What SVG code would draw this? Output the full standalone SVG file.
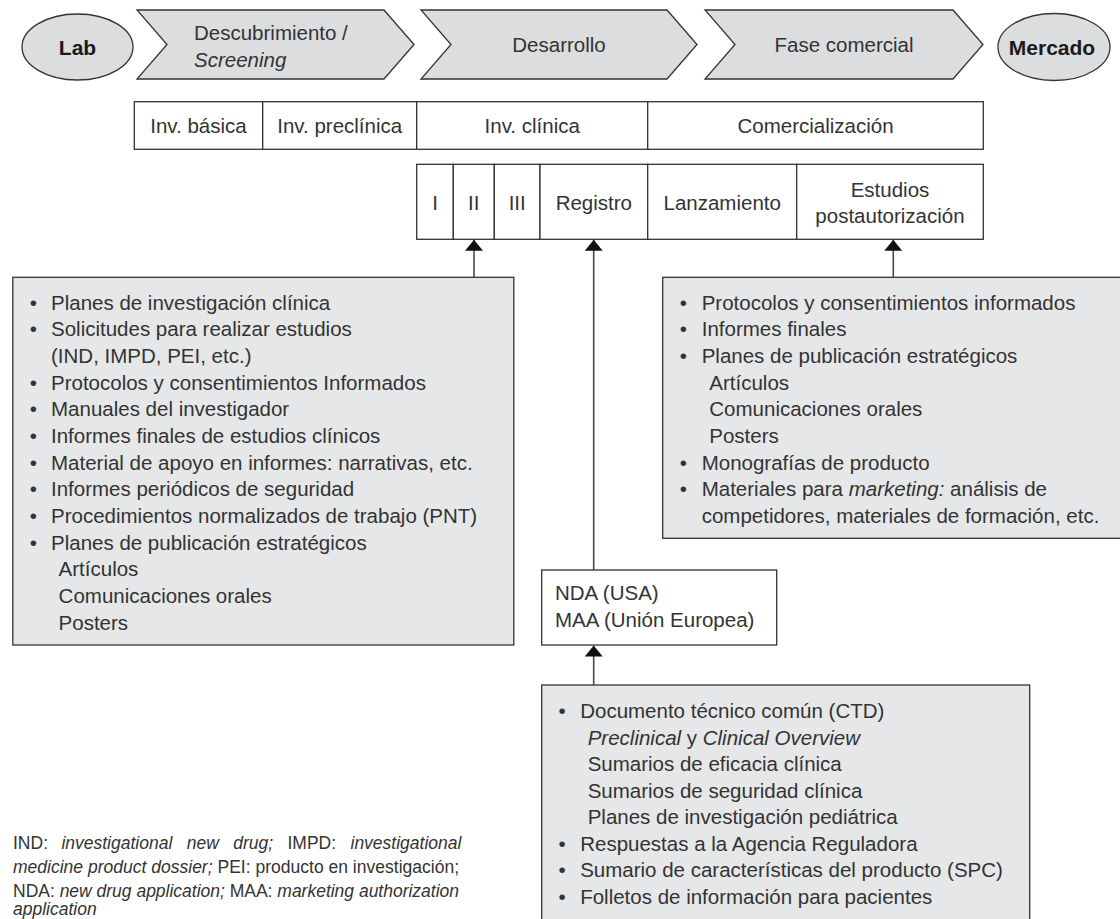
<svg xmlns="http://www.w3.org/2000/svg" width="1120" height="919" viewBox="0 0 1120 919">
<style>
text{font-family:"Liberation Sans",Arial,sans-serif;fill:#333;font-size:20.5px}
.c{text-anchor:middle}
.b{font-weight:bold;fill:#1a1a1a;font-size:21px}
.i{font-style:italic}
.shape{fill:#dcdddf;stroke:#333;stroke-width:1.3}
.box{fill:#e6e7e8;stroke:#333;stroke-width:1.3}
.cell{fill:#fff;stroke:#333;stroke-width:1.3}
.conn{stroke:#4a4a4a;stroke-width:1.6;fill:none;marker-end:url(#ah)}
.fn{font-size:17.5px}
</style>
<defs>
<marker id="ah" viewBox="0 -9 11 18" refX="11" refY="0" markerWidth="11" markerHeight="18" markerUnits="userSpaceOnUse" orient="auto">
<path d="M0,-9 L11,0 L0,9 Z" fill="#111"/>
</marker>
</defs>
<rect width="1120" height="919" fill="#fff"/>

<g id="lab">
<ellipse class="shape" cx="77.5" cy="47" rx="55.5" ry="33"/>
<text class="b c" x="77.5" y="54.5">Lab</text>
</g>
<g id="descubrimiento">
<polygon class="shape" points="137,10 384,10 414,44.5 384,79 137,79 167,44.5"/>
<text x="194" y="40">Descubrimiento /</text>
<text class="i" x="194" y="67">Screening</text>
</g>
<g id="desarrollo">
<polygon class="shape" points="421,10 667,10 697,44.5 667,79 421,79 451,44.5"/>
<text class="c" x="559" y="52">Desarrollo</text>
</g>
<g id="fase-comercial">
<polygon class="shape" points="705,10 953,10 983,44.5 953,79 705,79 735,44.5"/>
<text class="c" x="844" y="52">Fase comercial</text>
</g>
<g id="mercado">
<ellipse class="shape" cx="1054" cy="47" rx="56" ry="33.5"/>
<text class="b c" x="1052" y="54.5">Mercado</text>
</g>

<g id="fila1">
<rect class="cell" x="134.3" y="101.7" width="128.4" height="47.6"/>
<rect class="cell" x="262.7" y="101.7" width="154" height="47.6"/>
<rect class="cell" x="416.7" y="101.7" width="231" height="47.6"/>
<rect class="cell" x="647.7" y="101.7" width="335.6" height="47.6"/>
<text class="c" x="198.5" y="133">Inv. básica</text>
<text class="c" x="339.7" y="133">Inv. preclínica</text>
<text class="c" x="532.2" y="133">Inv. clínica</text>
<text class="c" x="815.5" y="133">Comercialización</text>
</g>

<g id="fila2">
<rect class="cell" x="416.7" y="164.3" width="36.6" height="75"/>
<rect class="cell" x="453.3" y="164.3" width="41" height="75"/>
<rect class="cell" x="494.3" y="164.3" width="45.7" height="75"/>
<rect class="cell" x="540" y="164.3" width="107.7" height="75"/>
<rect class="cell" x="647.7" y="164.3" width="149" height="75"/>
<rect class="cell" x="796.7" y="164.3" width="186.6" height="75"/>
<text class="c" x="435" y="210">I</text>
<text class="c" x="473.8" y="210">II</text>
<text class="c" x="517.2" y="210">III</text>
<text class="c" x="593.8" y="210">Registro</text>
<text class="c" x="722.2" y="210">Lanzamiento</text>
<text class="c" x="890" y="197">Estudios</text>
<text class="c" x="890" y="223">postautorización</text>
</g>

<g id="connectors">
<line class="conn" x1="474" y1="277.3" x2="474" y2="239.8"/>
<line class="conn" x1="593.7" y1="570" x2="593.7" y2="239.8"/>
<line class="conn" x1="893.3" y1="277.3" x2="893.3" y2="239.8"/>
<line class="conn" x1="593.7" y1="685" x2="593.7" y2="645.5"/>
</g>

<g id="caja-clinica">
<rect class="box" x="12.8" y="277.3" width="501" height="367.7"/>
<text x="29.8" y="309.7">•</text><text x="51" y="309.7">Planes de investigación clínica</text>
<text x="29.8" y="336.4">•</text><text x="51" y="336.4">Solicitudes para realizar estudios</text>
<text x="51" y="363">(IND, IMPD, PEI, etc.)</text>
<text x="29.8" y="389.7">•</text><text x="51" y="389.7">Protocolos y consentimientos Informados</text>
<text x="29.8" y="416.4">•</text><text x="51" y="416.4">Manuales del investigador</text>
<text x="29.8" y="443">•</text><text x="51" y="443">Informes finales de estudios clínicos</text>
<text x="29.8" y="469.7">•</text><text x="51" y="469.7">Material de apoyo en informes: narrativas, etc.</text>
<text x="29.8" y="496.4">•</text><text x="51" y="496.4">Informes periódicos de seguridad</text>
<text x="29.8" y="523">•</text><text x="51" y="523">Procedimientos normalizados de trabajo (PNT)</text>
<text x="29.8" y="549.7">•</text><text x="51" y="549.7">Planes de publicación estratégicos</text>
<text x="58.6" y="576.4">Artículos</text>
<text x="58.6" y="603">Comunicaciones orales</text>
<text x="58.6" y="629.7">Posters</text>
</g>

<g id="caja-postautorizacion">
<rect class="box" x="662.7" y="277.3" width="470" height="261"/>
<text x="679.7" y="309.7">•</text><text x="701.7" y="309.7">Protocolos y consentimientos informados</text>
<text x="679.7" y="336.4">•</text><text x="701.7" y="336.4">Informes finales</text>
<text x="679.7" y="363">•</text><text x="701.7" y="363">Planes de publicación estratégicos</text>
<text x="709.3" y="389.7">Artículos</text>
<text x="709.3" y="416.4">Comunicaciones orales</text>
<text x="709.3" y="443">Posters</text>
<text x="679.7" y="469.7">•</text><text x="701.7" y="469.7">Monografías de producto</text>
<text x="679.7" y="496.4">•</text><text x="701.7" y="496.4">Materiales para <tspan class="i">marketing:</tspan> análisis de</text>
<text x="701.7" y="523">competidores, materiales de formación, etc.</text>
</g>

<g id="registro-nda">
<rect class="cell" x="541.7" y="570" width="235" height="75"/>
<text x="555" y="600">NDA (USA)</text>
<text x="555" y="626.5">MAA (Unión Europea)</text>
</g>

<g id="caja-ctd">
<rect class="box" x="541.7" y="685" width="488" height="250"/>
<text x="558.4" y="718">•</text><text x="580.2" y="718">Documento técnico común (CTD)</text>
<text x="587.7" y="744.5"><tspan class="i">Preclinical</tspan> y <tspan class="i">Clinical Overview</tspan></text>
<text x="587.7" y="771">Sumarios de eficacia clínica</text>
<text x="587.7" y="797.5">Sumarios de seguridad clínica</text>
<text x="587.7" y="824">Planes de investigación pediátrica</text>
<text x="558.4" y="850.5">•</text><text x="580.2" y="850.5">Respuestas a la Agencia Reguladora</text>
<text x="558.4" y="877">•</text><text x="580.2" y="877">Sumario de características del producto (SPC)</text>
<text x="558.4" y="903.5">•</text><text x="580.2" y="903.5">Folletos de información para pacientes</text>
</g>

<g id="nota">
<text class="fn" y="848.5"><tspan x="13">IND:</tspan><tspan class="i" x="61.4">investigational</tspan><tspan class="i" x="186.7">new</tspan><tspan class="i" x="233.2">drug;</tspan><tspan x="287.5">IMPD:</tspan><tspan class="i" x="350.5">investigational</tspan></text>
<text class="fn" x="13" y="872.5" textLength="446" lengthAdjust="spacing"><tspan class="i">medicine product dossier;</tspan> PEI: producto en investigación;</text>
<text class="fn" x="13" y="896.5" textLength="446" lengthAdjust="spacing">NDA: <tspan class="i">new drug application;</tspan> MAA: <tspan class="i">marketing authorization</tspan></text>
<text class="fn i" x="13" y="915">application</text>
</g>
</svg>
